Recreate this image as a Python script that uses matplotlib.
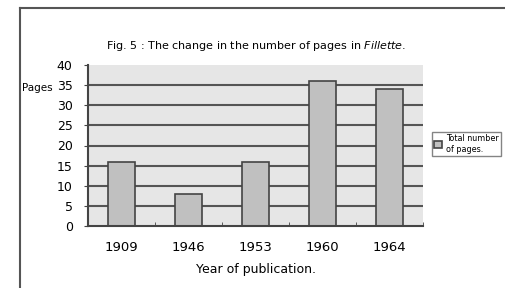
import matplotlib
matplotlib.use("Agg")
import matplotlib.pyplot as plt
from matplotlib.lines import Line2D
import numpy as np

years = ["1909", "1946", "1953", "1960", "1964"]
pages = [16, 8, 16, 36, 34]
yticks = [0, 5, 10, 15, 20, 25, 30, 35, 40]

W, H = 505, 288
fig = plt.figure(figsize=(W/100, H/100), dpi=100)
fig.patch.set_facecolor("white")

# outer frame (left and top edges)
fig.add_artist(Line2D([20/W, 20/W], [0, 1-8/H], color="#555555", lw=1.5, transform=fig.transFigure))
fig.add_artist(Line2D([20/W, 1], [1-8/H, 1-8/H], color="#555555", lw=1.5, transform=fig.transFigure))

left, right, top, bottom = 88, 423, 65, 226
ax = fig.add_axes([left/W, 1-bottom/H, (right-left)/W, (bottom-top)/H])
ax.set_facecolor("#e6e6e6")

x = np.arange(len(years))
ax.set_xlim(-0.5, len(years)-0.5)
ax.set_ylim(0, 40)
for v in yticks[1:-1]:
    ax.axhline(v, color="#555555", lw=1.5, zorder=1)
bars = ax.bar(x, pages, width=0.4, color="#c0c0c0", edgecolor="#444444", lw=1.2, zorder=2,
              label="Total number\nof pages.")

for s in ["top", "right"]:
    ax.spines[s].set_visible(False)
for s in ["left", "bottom"]:
    ax.spines[s].set_color("#444444")
    ax.spines[s].set_linewidth(1.5)

ax.set_yticks(yticks)
ax.set_yticklabels([str(v) for v in yticks], fontsize=9)
ax.tick_params(axis="y", length=3, color="#444444", pad=8)
ax.set_xticks(x)
ax.set_xticklabels(years, fontsize=9.5)
ax.tick_params(axis="x", length=0, pad=11)
# minor ticks at category boundaries pointing up
ax.set_xticks(np.arange(-0.5, len(years)), minor=True)
ax.tick_params(axis="x", which="minor", direction="in", length=3, color="#444444")

ax.set_xlabel("Year of publication.", fontsize=9, labelpad=6)
fig.text(37/W, 1-88/H, "Pages", fontsize=7.5, ha="center", va="center")
fig.text(256/W, 1-46/H, "Fig. 5 : The change in the number of pages in $\\it{Fillette}$.",
         fontsize=8, ha="center", va="center")

fig.legend(handles=[bars], labels=["Total number\nof pages."], loc="center left",
           bbox_to_anchor=(432/W, 1-144/H), fontsize=5.8, frameon=True,
           edgecolor="#666666", fancybox=False, handlelength=1.0, handleheight=1.0,
           borderpad=0.3, handletextpad=0.4, borderaxespad=0, labelspacing=0.2)

fig.savefig("out.png", dpi=100)
